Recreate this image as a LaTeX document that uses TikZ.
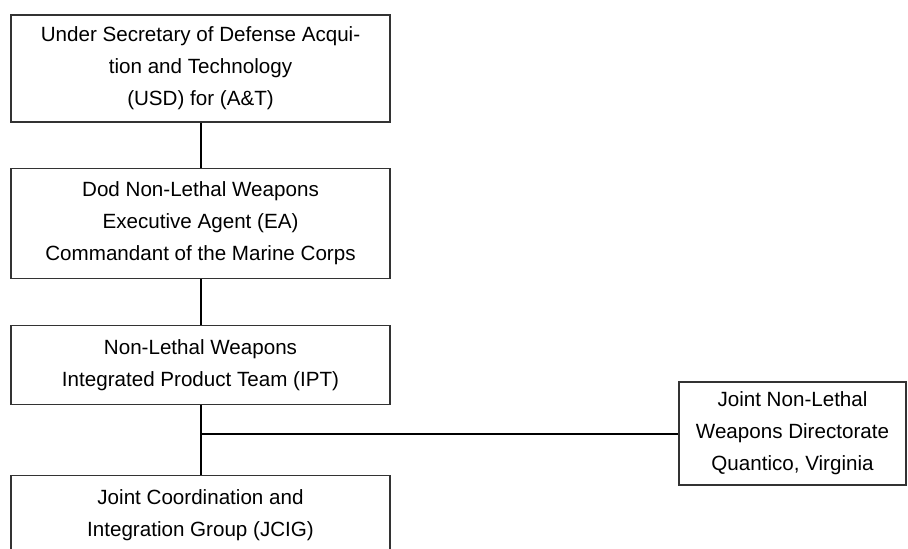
\documentclass[tikz,border=0pt]{standalone}
\usepackage{fontspec}
\setmainfont{Liberation Sans}
\usetikzlibrary{positioning}

\begin{document}
\begin{tikzpicture}[x=0.5pt, y=-0.5pt,
    box/.style={draw=black!80, line width=0.6pt, align=center, inner sep=0pt,
      minimum width=189.5pt, font=\fontsize{10.3}{16}\selectfont},
    link/.style={line width=1pt}]
    % Frame
    \useasboundingbox (0,0) rectangle (908,548);

    % Chain of command
    \node[box, minimum height=53.5pt] (usd) at (200.5,68.5)
        {Under Secretary of Defense Acqui-\\tion and Technology\\(USD) for (A\&T)};
    \node[box, minimum height=55pt, below=22.5pt of usd] (ea)
        {Dod Non-Lethal Weapons\\Executive Agent (EA)\\Commandant of the Marine Corps};
    \node[box, minimum height=39.5pt, below=23pt of ea] (ipt)
        {Non-Lethal Weapons\\Integrated Product Team (IPT)};
    \node[box, minimum height=40pt, below=35pt of ipt] (jcig)
        {Joint Coordination and\\Integration Group (JCIG)};

    % Directorate
    \node[box, minimum width=113.5pt, minimum height=51.5pt] (jnlwd) at (792.5,433.5)
        {Joint Non-Lethal\\Weapons Directorate\\Quantico, Virginia};

    % Links
    \draw[link] (usd) -- (ea);
    \draw[link] (ea) -- (ipt);
    \draw[link] (ipt) -- (jcig);
    \coordinate (tee) at (ipt.south |- jnlwd.west);
    \draw[link] (tee) -- (jnlwd.west);
\end{tikzpicture}
\end{document}
